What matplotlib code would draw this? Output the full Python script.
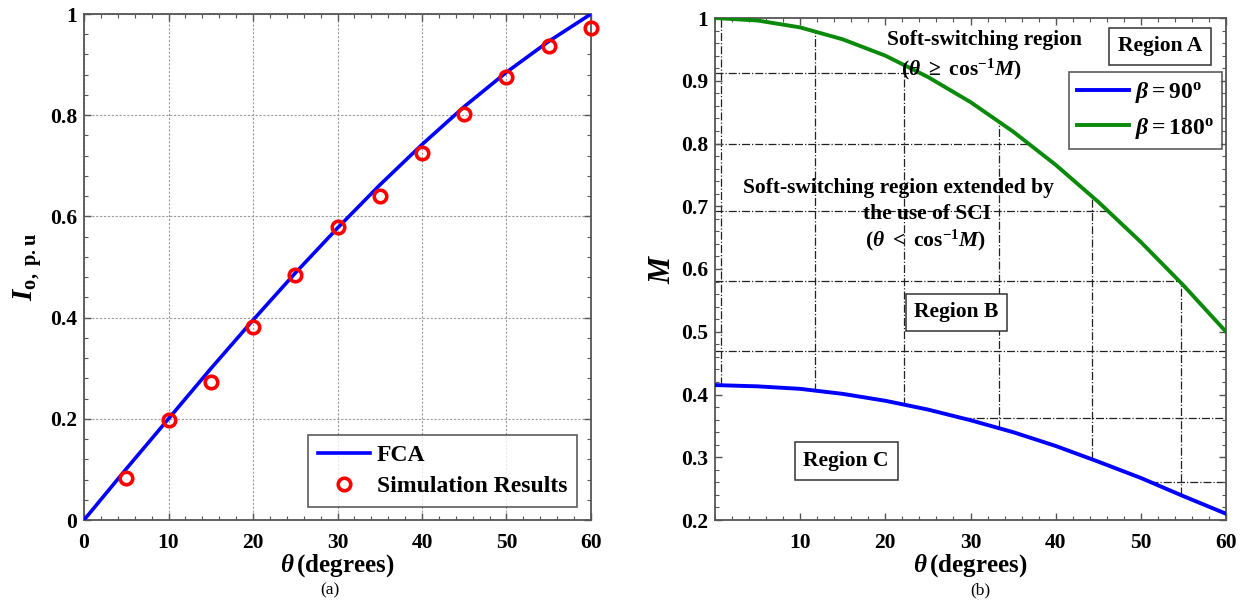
import numpy as np
import matplotlib
matplotlib.use("Agg")
import matplotlib.pyplot as plt
from matplotlib.ticker import MultipleLocator

plt.rcParams.update({
    'font.family': ['Liberation Serif', 'DejaVu Serif'],
    'font.weight': 'bold',
    'mathtext.fontset': 'custom',
    'mathtext.rm': 'Liberation Serif:bold',
    'mathtext.bf': 'Liberation Serif:bold',
    'mathtext.it': 'Liberation Serif:italic:bold',
    'mathtext.bfit': 'Liberation Serif:italic:bold',
    'mathtext.default': 'bf',
})

# ---------------- data (a) ----------------
theta_fca = [0, 5, 10, 15, 20, 25, 30, 35, 40, 45, 50, 55, 60]
io_fca = [0.0, 0.101, 0.200, 0.299, 0.395, 0.488, 0.577, 0.662, 0.742, 0.817, 0.885, 0.946, 1.0]
theta_sim = [5, 10, 15, 20, 25, 30, 35, 40, 45, 50, 55, 60]
io_sim = [0.083, 0.197, 0.272, 0.381, 0.485, 0.580, 0.641, 0.725, 0.803, 0.875, 0.937, 0.973]

# ---------------- data (b) ----------------
theta_b = [0, 5, 10, 15, 20, 25, 30, 35, 40, 45, 50, 55, 60]
m_beta180 = [1.0, 0.996, 0.985, 0.966, 0.940, 0.906, 0.866, 0.819, 0.766, 0.707, 0.643, 0.574, 0.500]
m_beta90 = [0.415, 0.413, 0.409, 0.401, 0.390, 0.376, 0.359, 0.340, 0.318, 0.293, 0.267, 0.238, 0.210]
grid_x = [0.7, 11.7, 22.2, 33.3, 44.3, 54.7]
grid_y = [0.912, 0.800, 0.693, 0.581, 0.470, 0.362, 0.261]

xticks_a = [0, 10, 20, 30, 40, 50, 60]
yticks_a = [0, 0.2, 0.4, 0.6, 0.8, 1]
ytick_labels_a = ['0', '0.2', '0.4', '0.6', '0.8', '1']
xticks_b = [10, 20, 30, 40, 50, 60]
yticks_b = [0.2, 0.3, 0.4, 0.5, 0.6, 0.7, 0.8, 0.9, 1]
ytick_labels_b = ['0.2', '0.3', '0.4', '0.5', '0.6', '0.7', '0.8', '0.9', '1']

W, H = 1253, 604
fig = plt.figure(figsize=(W / 100, H / 100), dpi=100)

def axrect(l, t, r, b):
    return [l / W, 1 - b / H, (r - l) / W, (b - t) / H]

spine_col = '#555555'
TICK_FS = 15.5
LABEL_FS = 18

def style_axes(ax):
    for s in ax.spines.values():
        s.set_color(spine_col)
        s.set_linewidth(1.3)
    ax.tick_params(which='both', direction='in', top=True, right=True,
                   colors=spine_col, labelcolor='black', labelsize=TICK_FS)
    ax.tick_params(which='major', length=5, width=1)
    ax.tick_params(which='minor', length=3, width=0.8)
    ax.tick_params(axis='x', which='major', pad=9)
    ax.tick_params(axis='y', which='major', pad=5)
    for lab in ax.get_xticklabels() + ax.get_yticklabels():
        lab.set_fontweight('bold')

# ---------------- panel (a) ----------------
ax1 = fig.add_axes(axrect(84, 14, 591, 520))
ax1.plot(theta_fca, io_fca, color='#0000ff', lw=2.6, label='FCA', zorder=3)
ax1.plot(theta_sim, io_sim, linestyle='none', marker='o', markersize=9,
         markerfacecolor='none', markeredgecolor='#ff0000', markeredgewidth=2.6,
         label='Simulation Results', zorder=4, clip_on=False)
ax1.set_xlim(0, 60)
ax1.set_ylim(0, 1)
ax1.set_xticks(xticks_a)
ax1.set_yticks(yticks_a)
ax1.set_yticklabels(ytick_labels_a)
ax1.xaxis.set_minor_locator(MultipleLocator(2))
ax1.yaxis.set_minor_locator(MultipleLocator(0.04))
ax1.grid(True, which='major', color='#9a9a9a', linestyle=(0, (2, 1.5)), linewidth=0.8)
style_axes(ax1)
ax1.set_xlabel(r'$\mathbfit{\theta}\,$(degrees)', fontsize=LABEL_FS, fontweight='bold', labelpad=0)
ax1.set_ylabel(r'$\mathbfit{I}_{\mathbf{o,\ p.u}}$', fontsize=21, labelpad=4)
leg1 = ax1.legend(loc='lower right', bbox_to_anchor=(0.972, 0.026), borderaxespad=0,
                  fontsize=17, frameon=True, fancybox=False, edgecolor='#333333',
                  handlelength=2.2, handletextpad=0.3, borderpad=0.4, labelspacing=0.4)
leg1.get_frame().set_linewidth(1.2)
for t in leg1.get_texts():
    t.set_fontweight('bold')

# ---------------- panel (b) ----------------
ax2 = fig.add_axes(axrect(715, 18, 1226, 520))
th = np.array(theta_b, dtype=float)
g = np.array(m_beta180)
bl = np.array(m_beta90)
# dash-dot grid limited to region between curves
for gx in grid_x:
    lo = np.interp(gx, th, bl)
    hi = np.interp(gx, th, g)
    ax2.vlines(gx, lo, hi, colors='#222222', linestyles='-.', linewidth=0.9, zorder=1)
for gy in grid_y:
    x0 = np.interp(gy, bl[::-1], th[::-1]) if gy < bl[0] else 0
    x1 = np.interp(gy, g[::-1], th[::-1]) if gy > g[-1] else 60
    ax2.hlines(gy, x0, x1, colors='#222222', linestyles='-.', linewidth=0.9, zorder=1)

ax2.plot(theta_b, m_beta90, color='#0000ff', lw=2.8, label=r'$\mathbfit{\beta}\mathbf{=90^{o}}$', zorder=3)
ax2.plot(theta_b, m_beta180, color='#0a8a0a', lw=2.8, label=r'$\mathbfit{\beta}\mathbf{=180^{o}}$', zorder=3)
ax2.set_xlim(0, 60)
ax2.set_ylim(0.2, 1)
ax2.set_xticks(xticks_b)
ax2.set_yticks(yticks_b)
ax2.set_yticklabels(ytick_labels_b)
ax2.xaxis.set_minor_locator(MultipleLocator(2))
ax2.yaxis.set_minor_locator(MultipleLocator(0.02))
style_axes(ax2)
ax2.set_xlabel(r'$\mathbfit{\theta}\,$(degrees)', fontsize=LABEL_FS, fontweight='bold', labelpad=0)
ax2.set_ylabel(r'$\mathbfit{M}$', fontsize=22, labelpad=3)

leg2 = ax2.legend(loc='upper right', bbox_to_anchor=(0.992, 0.893), borderaxespad=0,
                  fontsize=17, frameon=True, fancybox=False, edgecolor='#333333',
                  handlelength=2.2, handletextpad=0.25, borderpad=0.35, labelspacing=0.45)
leg2.get_frame().set_linewidth(1.2)

TXT_FS = 15.5
ax2.text(31.7, 0.965, 'Soft-switching region', ha='center', va='center', fontsize=TXT_FS, fontweight='bold')
ax2.text(28.9, 0.918, r'$(\mathbfit{\theta}\ \geq\ \mathbf{cos}^{\mathbf{-1}}\mathbfit{M})$', ha='center', va='center', fontsize=TXT_FS)
ax2.text(21.5, 0.729, 'Soft-switching region extended by', ha='center', va='center', fontsize=TXT_FS, fontweight='bold')
ax2.text(24.9, 0.688, 'the use of SCI', ha='center', va='center', fontsize=TXT_FS, fontweight='bold')
ax2.text(24.7, 0.646, r'$(\mathbfit{\theta}\ <\ \mathbf{cos}^{\mathbf{-1}}\mathbfit{M})$', ha='center', va='center', fontsize=TXT_FS)

REG_FS = 15.5
box = dict(boxstyle='square,pad=0.4', facecolor='white', edgecolor='#333333', linewidth=1.1)
ax2.text(52.25, 0.955, 'Region A', ha='center', va='center', fontsize=REG_FS, fontweight='bold', bbox=box)
ax2.text(28.36, 0.531, 'Region B', ha='center', va='center', fontsize=REG_FS, fontweight='bold', bbox=box)
ax2.text(15.4, 0.294, 'Region C', ha='center', va='center', fontsize=REG_FS, fontweight='bold', bbox=box)

fig.text(330 / W, 1 - 590 / H, '(a)', ha='center', va='center', fontsize=12.5, fontweight='normal')
fig.text(980 / W, 1 - 590 / H, '(b)', ha='center', va='center', fontsize=12.5, fontweight='normal')

fig.savefig('out.png', dpi=100)
